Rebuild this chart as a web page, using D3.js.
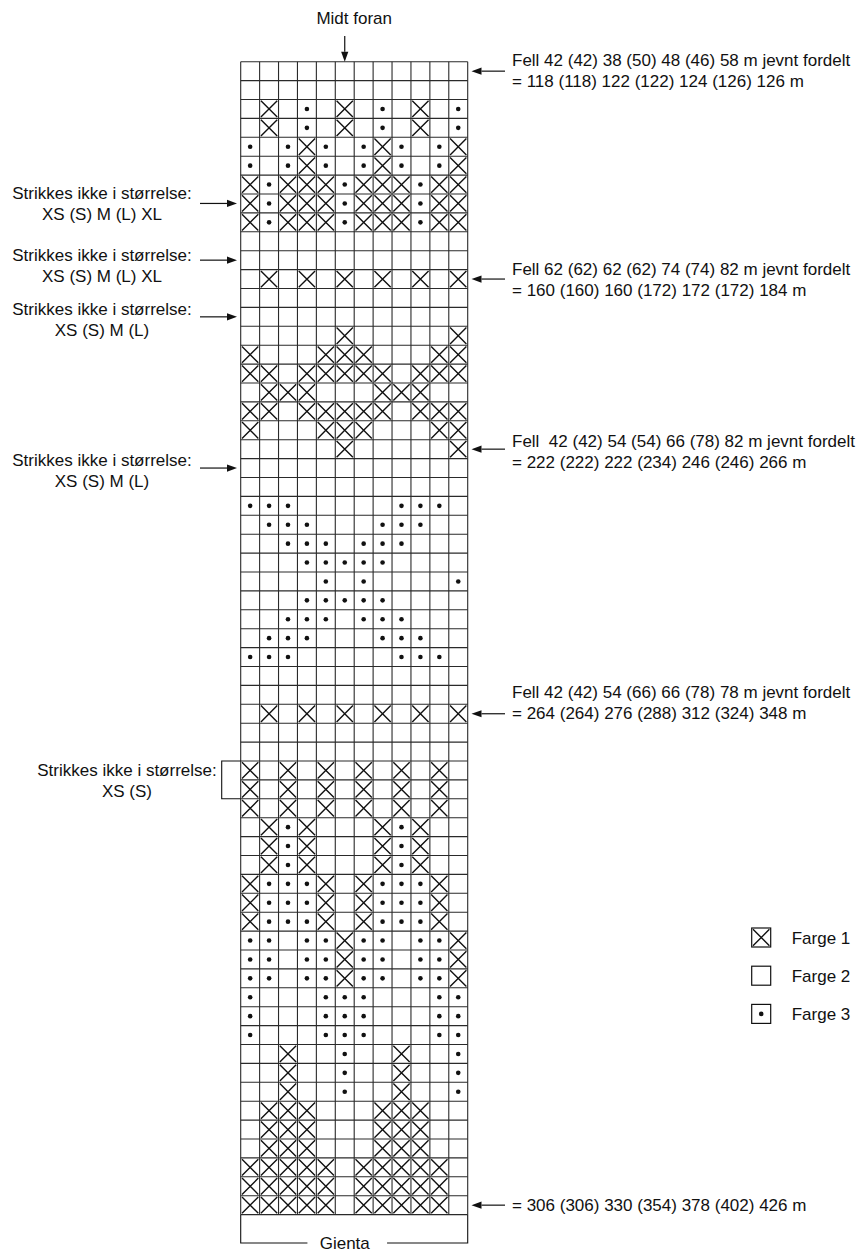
<!DOCTYPE html>
<html>
<head>
<meta charset="utf-8">
<script src="https://cdn.jsdelivr.net/npm/d3@7"></script>
<style>
  html, body { margin: 0; padding: 0; background: #fff; }
  svg text { font-family: "Liberation Sans", Arial, sans-serif; fill: #111; white-space: pre; }
</style>
</head>
<body>
<svg id="chart" width="857" height="1253"></svg>
<script>
// ---------- DATA ----------
// X = Farge 1, - = Farge 2 (blank), o = Farge 3 (dot); top row first
const chartRows = [
  "------------","------------","-X-o-X-o-X-o","-X-o-X-o-X-o","o-oXo-oXo-oX","o-oXo-oXo-oX",
  "XoXXXoXXXoXX","XoXXXoXXXoXX","XoXXXoXXXoXX","------------","------------","-X-X-X-X-X-X",
  "------------","------------","-----X-----X","X---XXX---XX","XX-XXXXX-XXX","-XXX---XXX--",
  "XX-XXXXX-XXX","X---XXX---XX","-----X-----X","------------","------------","ooo-----ooo-",
  "-ooo---ooo--","--ooo-ooo---","---ooooo----","----o-o----o","---ooooo----","--ooo-ooo---",
  "-ooo---ooo--","ooo-----ooo-","------------","------------","-X-X-X-X-X-X","------------",
  "------------","X-X-X-X-X-X-","X-X-X-X-X-X-","X-X-X-X-X-X-","-XoX---XoX--","-XoX---XoX--",
  "-XoX---XoX--","XoooX-XoooX-","XoooX-XoooX-","XoooX-XoooX-","oo-ooXoo-ooX","oo-ooXoo-ooX",
  "oo-ooXoo-ooX","o---ooo---oo","o---ooo---oo","o---ooo---oo","--X--o--X--o","--X--o--X--o",
  "--X--o--X--o","-XXX---XXX--","-XXX---XXX--","-XXX---XXX--","XXXXX-XXXXX-","XXXXX-XXXXX-",
  "XXXXX-XXXXX-"
];
const columnCount = 12;
const legendKeys = ["X", "-", "o"];
const legendLabels = ["Farge 1", "Farge 2", "Farge 3"];
const topLabel = "Midt foran";
const topColumn = 6;
const bottomLabel = "Gienta";

const rightNoteRows = [1, 12, 21, 35, 61];
const rightNoteTexts = [
  ["Fell 42 (42) 38 (50) 48 (46) 58 m jevnt fordelt", "= 118 (118) 122 (122) 124 (126) 126 m"],
  ["Fell 62 (62) 62 (62) 74 (74) 82 m jevnt fordelt", "= 160 (160) 160 (172) 172 (172) 184 m"],
  ["Fell  42 (42) 54 (54) 66 (78) 82 m jevnt fordelt", "= 222 (222) 222 (234) 246 (246) 266 m"],
  ["Fell 42 (42) 54 (66) 66 (78) 78 m jevnt fordelt", "= 264 (264) 276 (288) 312 (324) 348 m"],
  ["= 306 (306) 330 (354) 378 (402) 426 m"]
];
const leftNoteRows = [8, 11, 14, 22];
const leftNoteTexts = [
  ["Strikkes ikke i størrelse:", "XS (S) M (L) XL"],
  ["Strikkes ikke i størrelse:", "XS (S) M (L) XL"],
  ["Strikkes ikke i størrelse:", "XS (S) M (L)"],
  ["Strikkes ikke i størrelse:", "XS (S) M (L)"]
];
const bracketRows = [38, 39];
const bracketText = ["Strikkes ikke i størrelse:", "XS (S)"];

// ---------- LAYOUT ----------
const L = {
  gridLeft: 240.7, gridRight: 467.7, gridTop: 61.7, gridBottom: 1214.6,
  font: 17, lineGap: 21,
  rightTextX: 512, rightArrowTail: 505, rightArrowTip: 471.5,
  rightFirstOffsets: [-5.5, -4, -2.5, -16, 5.5],
  leftCenterX: 102, leftArrowTail: 200, leftArrowTip: 237,
  leftFirstOffsets: [-4.5, 0.5, -1.5, -2],
  bracketX: 221.7, bracketTextX: 127, bracketBaseline: 776,
  topTextY: 24, topArrowTail: 36,
  bottomY: 1243, bottomTextY: 1248.5,
  legendBoxX: 751.7, legendTop: 928, legendStep: 38.2, legendBox: 19, legendTextX: 791.7
};

const svg = d3.select("#chart");
const x = d3.scaleLinear().domain([0, columnCount]).range([L.gridLeft, L.gridRight]);
const y = d3.scaleLinear().domain([0, chartRows.length]).range([L.gridTop, L.gridBottom]);
const cw = x(1) - x(0), ch = y(1) - y(0);

// cells
const cells = [];
chartRows.forEach((row, r) => row.split("").forEach((k, c) => cells.push({ r, c, k })));

function drawSymbol(g, k, x0, y0, w, h) {
  if (k === "X") {
    const i = 1.3;
    g.append("path")
      .attr("d", `M${x0 + i},${y0 + i}L${x0 + w - i},${y0 + h - i}M${x0 + w - i},${y0 + i}L${x0 + i},${y0 + h - i}`)
      .attr("stroke", "#111").attr("stroke-width", 1.4).attr("fill", "none");
  } else if (k === "o") {
    g.append("circle").attr("cx", x0 + w / 2).attr("cy", y0 + h / 2).attr("r", 2.3).attr("fill", "#111");
  }
}

const cellG = svg.append("g");
cells.forEach(d => drawSymbol(cellG, d.k, x(d.c), y(d.r), cw, ch));

// grid lines
const gridG = svg.append("g").attr("stroke", "#2a2a2a").attr("stroke-width", 1.1);
d3.range(0, columnCount + 1).forEach(i => {
  gridG.append("line").attr("x1", x(i)).attr("x2", x(i)).attr("y1", y(0)).attr("y2", y(chartRows.length));
});
d3.range(0, chartRows.length + 1).forEach(j => {
  gridG.append("line").attr("x1", x(0)).attr("x2", x(columnCount)).attr("y1", y(j)).attr("y2", y(j));
});

// arrow helper
function arrow(x1, y1, x2, y2) {
  const a = Math.atan2(y2 - y1, x2 - x1), len = 10, hw = 3.6;
  const bx = x2 - len * Math.cos(a), by = y2 - len * Math.sin(a);
  svg.append("line").attr("x1", x1).attr("y1", y1).attr("x2", bx).attr("y2", by)
    .attr("stroke", "#111").attr("stroke-width", 1.2);
  const px = -Math.sin(a) * hw, py = Math.cos(a) * hw;
  svg.append("path").attr("d", `M${x2},${y2}L${bx + px},${by + py}L${bx - px},${by - py}Z`).attr("fill", "#111");
}

// top label
svg.append("text").attr("x", (L.gridLeft + L.gridRight) / 2).attr("y", L.topTextY)
  .attr("text-anchor", "middle").attr("font-size", L.font).text(topLabel);
arrow(x(topColumn - 0.5), L.topArrowTail, x(topColumn - 0.5), L.gridTop);

// right notes
rightNoteRows.forEach((row, i) => {
  const cy = y(row - 0.5);
  arrow(L.rightArrowTail, cy, L.rightArrowTip, cy);
  rightNoteTexts[i].forEach((t, j) => {
    svg.append("text").attr("x", L.rightTextX).attr("y", cy + L.rightFirstOffsets[i] + j * L.lineGap)
      .attr("font-size", L.font).text(t);
  });
});

// left notes
leftNoteRows.forEach((row, i) => {
  const cy = y(row - 0.5);
  arrow(L.leftArrowTail, cy, L.leftArrowTip, cy);
  leftNoteTexts[i].forEach((t, j) => {
    svg.append("text").attr("x", L.leftCenterX).attr("y", cy + L.leftFirstOffsets[i] + j * L.lineGap)
      .attr("text-anchor", "middle").attr("font-size", L.font).text(t);
  });
});

// bracket
const bTop = y(bracketRows[0] - 1), bBot = y(bracketRows[bracketRows.length - 1]);
svg.append("path").attr("d", `M${L.gridLeft},${bTop}H${L.bracketX}V${bBot}H${L.gridLeft}`)
  .attr("fill", "none").attr("stroke", "#111").attr("stroke-width", 1.1);
bracketText.forEach((t, j) => {
  svg.append("text").attr("x", L.bracketTextX).attr("y", L.bracketBaseline + j * L.lineGap)
    .attr("text-anchor", "middle").attr("font-size", L.font).text(t);
});

// bottom "Gienta"
const bt = svg.append("text").attr("x", x(topColumn - 0.5)).attr("y", L.bottomTextY)
  .attr("text-anchor", "middle").attr("font-size", L.font).text(bottomLabel);
const bw = bt.node().getBBox().width;
const gapL = x(topColumn - 0.5) - bw / 2 - 12, gapR = x(topColumn - 0.5) + bw / 2 + 17;
svg.append("path")
  .attr("d", `M${gapL},${L.bottomY}H${L.gridLeft}V${L.gridBottom}M${L.gridRight},${L.gridBottom}V${L.bottomY}H${gapR}`)
  .attr("fill", "none").attr("stroke", "#111").attr("stroke-width", 1.1);

// legend
legendKeys.forEach((k, i) => {
  const ty = L.legendTop + i * L.legendStep;
  const g = svg.append("g");
  g.append("rect").attr("x", L.legendBoxX).attr("y", ty).attr("width", L.legendBox).attr("height", L.legendBox)
    .attr("fill", "#fff").attr("stroke", "#111").attr("stroke-width", 1.2);
  drawSymbol(g, k, L.legendBoxX, ty, L.legendBox, L.legendBox);
  svg.append("text").attr("x", L.legendTextX).attr("y", ty + L.legendBox / 2 + 6)
    .attr("font-size", L.font).text(legendLabels[i]);
});
</script>
</body>
</html>
